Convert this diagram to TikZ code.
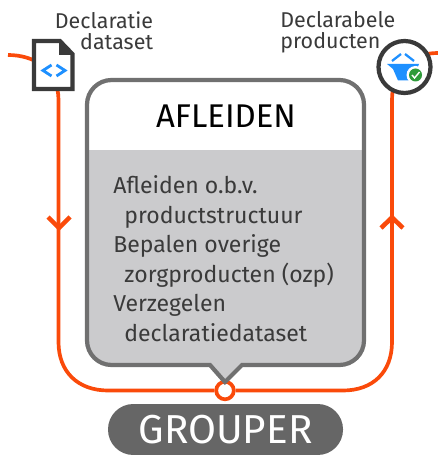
\documentclass[tikz,border=0pt]{standalone}
\usepackage{fontspec}
\setmainfont{Fira Sans}
\usetikzlibrary{positioning}
\definecolor{lijn}{HTML}{FA4A0A}
\definecolor{rand}{HTML}{707070}
\definecolor{vlak}{HTML}{CBCBCD}
\definecolor{donker}{HTML}{3A3A3A}
\definecolor{pil}{HTML}{666666}
\definecolor{icoon}{HTML}{1E90FF}
\definecolor{vink}{HTML}{2E9B3A}
\newcommand{\ballonpad}{(225,382) -- (242,365) [rounded corners = 14pt] -- (364,365) -- (364,80) -- (87,80) -- (87,365) [sharp corners] -- (210,365) -- cycle}
\begin{document}
\begin{tikzpicture}[x=0.02cm, y=-0.02cm,
lijn_stijl/.style = { draw = lijn, line width = 2.1pt },
pijl_stijl/.style = { draw = lijn, line width = 2.6pt },
label_stijl/.style = { text = donker, font = \fontsize{12.2}{12}\selectfont, inner sep = 0pt },
regel_stijl/.style = { text = donker, font = \fontsize{13.1}{16.8}\selectfont, inner sep = 0pt, align = left }]
\useasboundingbox (0,0) rectangle (438,455);
% lijn
\coordinate (links) at (8,55);
\coordinate (rechts) at (438,53);
\node[circle, draw = lijn, fill = white, line width = 2.1pt, minimum size = 10pt, inner sep = 0pt] (punt) at (225,390.5) {};
\node[inner sep = 0pt] (mand) at (404.5,67) {};
\draw[lijn_stijl] (links) .. controls (35,55) and (58.5,70) .. (58.5,100) -- (58.5,342) .. controls (58.5,372) and (78,390.5) .. (108,390.5) -- (punt);
\draw[lijn_stijl] (punt) -- (343,390.5) .. controls (373,390.5) and (392,372) .. (392,342) -- (392,100) .. controls (392,70) and (410,53) .. (rechts);
% pijlen
\draw[pijl_stijl] (48,217) -- (59,228) -- (70,217);
\draw[pijl_stijl] (381,228) -- (392,217.5) -- (403,228);
% ballon
\fill[white] \ballonpad;
\begin{scope}
\clip (80,151) rectangle (370,390);
\fill[vlak] \ballonpad;
\end{scope}
\draw[rand, line width = 2.4pt] \ballonpad;
\node[font = \fontsize{18.7}{22}\selectfont, text = black, inner sep = 0pt] (titel) at (226,116) {AFLEIDEN};
\node[regel_stijl, anchor = north west] (tekst) at (113,175.5) {Afleiden o.b.v.\\
\hspace*{6.3pt}productstructuur\\
Bepalen overige\\
\hspace*{6.3pt}zorgproducten (ozp)\\
Verzegelen\\
\hspace*{6.3pt}declaratiedataset};
% icoon dataset
\path[draw = donker, fill = white, line width = 2.3pt, line join = miter] (34,41) -- (60,41) -- (72.5,54) -- (72.5,89) -- (34,89) -- cycle;
\fill[donker] (59,40) -- (74,55) -- (59,55) -- cycle;
\draw[icoon, line width = 1.6pt] (51.5,65) -- (43,70.5) -- (51.5,76);
\draw[icoon, line width = 1.6pt] (56.5,65) -- (65,70.5) -- (56.5,76);
% icoon mand
\draw[donker, fill = white, line width = 2.4pt] (mand) circle (26);
\fill[icoon] (387,64) -- (419,64) -- (417,69) -- (410,80.5) -- (398,80.5) -- (393,69) -- cycle;
\draw[icoon, line width = 1.3pt] (392,61) -- (401,54);
\draw[icoon, line width = 1.3pt] (405,54) -- (414,61);
\fill[white] (415.5,75) circle (9);
\fill[vink] (415.5,75) circle (6.5);
\draw[white, line width = 0.8pt] (412,75) -- (414.5,78) -- (419.5,72);
% teksten
\node[label_stijl, align = right, anchor = north east] (dataset) at (153.5,11) {Declaratie\\dataset};
\node[label_stijl, align = left, anchor = north west] (producten) at (280,11) {Declarabele\\producten};
\node[rounded corners = 14.4pt, fill = pil, minimum width = 235*0.02cm, minimum height = 51*0.02cm, text = white, inner sep = 0pt, font = \fontsize{23}{26}\selectfont] (grouper) at (225.5,429.5) {GROUPER};
\end{tikzpicture}
\end{document}
